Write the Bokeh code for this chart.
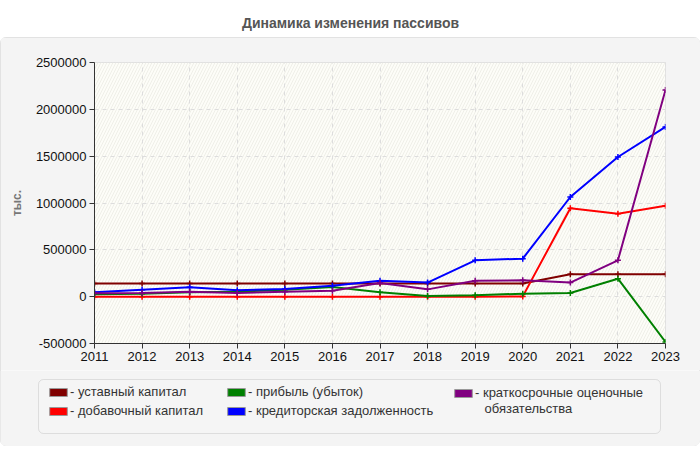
from bokeh.plotting import figure
from bokeh.layouts import column
from bokeh.models import (Range1d, FixedTicker, NumeralTickFormatter, BoxAnnotation,
                          Label, Legend, LegendItem)
from bokeh.core.properties import value
from bokeh.embed import file_html
from bokeh.resources import INLINE

# данные (тыс.)
years = [2011, 2012, 2013, 2014, 2015, 2016, 2017, 2018, 2019, 2020, 2021, 2022, 2023]
ustavny = [140000, 140000, 140000, 140000, 140000, 140000, 140000, 140000, 140000, 140000, 240000, 240000, 240000]
dobavochny = [0, 0, 0, 0, 0, 0, 0, 0, 0, 3000, 945000, 885000, 970000]
pribyl = [25000, 32000, 46000, 53000, 75000, 103000, 46000, 7000, 14000, 32000, 39000, 192000, -484000]
kreditor = [46000, 75000, 100000, 68000, 82000, 117000, 171000, 150000, 388000, 406000, 1064000, 1491000, 1812000]
kratko = [36000, 39000, 53000, 39000, 53000, 64000, 146000, 78000, 171000, 174000, 150000, 388000, 2207000]
y_ticks = [-500000, 0, 500000, 1000000, 1500000, 2000000, 2500000]

names = ["- уставный капитал", "- добавочный капитал", "- прибыль (убыток)",
         "- кредиторская задолженность", "- краткосрочные оценочные"]
colors = ["#800000", "#ff0000", "#008000", "#0000ff", "#800080"]
values = [ustavny, dobavochny, pribyl, kreditor, kratko]

FONT = "Liberation Sans"
PANEL = "#f4f4f4"

# заголовок
t = figure(width=700, height=37, output_backend="svg", toolbar_location=None,
           x_range=Range1d(0, 700), y_range=Range1d(37, 0),
           x_axis_type=None, y_axis_type=None, min_border=0, frame_align=False)
t.grid.visible = False
t.outline_line_color = None
t.border_fill_color = "white"
t.background_fill_color = "white"
t.text(x=[350], y=[22], text=["Динамика изменения пассивов"], text_align="center",
       text_baseline="middle", text_font=value(FONT), text_font_size="14px",
       text_font_style="bold", text_color="#555555")

# график
p = figure(width=700, height=333, output_backend="svg", toolbar_location=None,
           x_range=Range1d(2011, 2023), y_range=Range1d(-500000, 2500000),
           min_border_left=94, min_border_right=35, min_border_top=25, min_border_bottom=27)
p.border_fill_color = PANEL
p.background_fill_color = "#fdfdf8"
p.outline_line_color = "#dddddd"

p.add_layout(BoxAnnotation(level="image", fill_color="#fdfdf8", line_alpha=0,
                           hatch_pattern="/", hatch_color="#efefe8", hatch_scale=6,
                           hatch_weight=1))

p.xgrid.ticker = FixedTicker(ticks=years)
p.ygrid.ticker = FixedTicker(ticks=y_ticks)
for g in (p.xgrid, p.ygrid):
    g.grid_line_color = "#dddddd"
    g.grid_line_dash = "4 4"

p.xaxis.ticker = FixedTicker(ticks=years)
p.yaxis.ticker = FixedTicker(ticks=y_ticks)
p.yaxis.formatter = NumeralTickFormatter(format="0")
for ax in (p.xaxis, p.yaxis):
    ax.axis_line_color = "#333333"
    ax.major_tick_line_color = "#333333"
    ax.major_tick_in = 0
    ax.major_tick_out = 5
    ax.minor_tick_line_color = None
    ax.major_label_text_font = FONT
    ax.major_label_text_font_size = "13px"
    ax.major_label_text_color = "#111111"
    ax.major_label_standoff = 3
p.yaxis.axis_label = "тыс."
p.yaxis.axis_label_text_font = FONT
p.yaxis.axis_label_text_font_size = "12px"
p.yaxis.axis_label_text_font_style = "bold"
p.yaxis.axis_label_text_color = "#777777"
p.yaxis.axis_label_standoff = 9

for vals, color in zip(values, colors):
    p.line(years, vals, color=color, line_width=2)
    p.scatter(years, vals, marker="cross", size=6, color=color, line_width=1.5)

# легенда
lg = figure(width=700, height=76, output_backend="svg", toolbar_location=None,
            x_range=Range1d(0, 700), y_range=Range1d(76, 0),
            x_axis_type=None, y_axis_type=None, min_border=0, frame_align=False)
lg.grid.visible = False
lg.outline_line_color = None
lg.border_fill_color = PANEL
lg.background_fill_color = PANEL
lg.add_layout(BoxAnnotation(left=38, right=660, top=9, bottom=63,
                            fill_color="#f7f7f7", line_color="#aaaaaa", line_width=1,
                            border_radius=5))

# образцы цвета для легенды (за пределами видимой области)
swatches = [lg.rect(x=[-1000], y=[-1000], width=1, height=1, fill_color=c,
                    line_color="#999999", line_width=1) for c in colors]


def make_legend(idx, loc):
    items = [LegendItem(label=names[i], renderers=[swatches[i]]) for i in idx]
    leg = Legend(items=items, location=loc, padding=0, spacing=4, margin=0,
                 glyph_width=22, glyph_height=10, label_height=12, label_standoff=1,
                 label_text_font=FONT, label_text_font_size="13px",
                 label_text_color="#333333", border_line_alpha=0,
                 background_fill_alpha=0)
    lg.add_layout(leg, "center")


make_legend([0, 1], (47, 28))
make_legend([2, 3], (225, 28))
make_legend([4], (452, 46))
lg.add_layout(Label(x=484, y=38, text="обязательства", text_baseline="middle",
                    text_font=FONT, text_font_size="13px", text_color="#333333"))

panel = column(p, lg, styles={"outline": "1px solid #dddddd", "outline-offset": "-1px",
                              "border-radius": "6px", "overflow": "hidden"})

open("out.html", "w").write(file_html(column(t, panel), INLINE))
